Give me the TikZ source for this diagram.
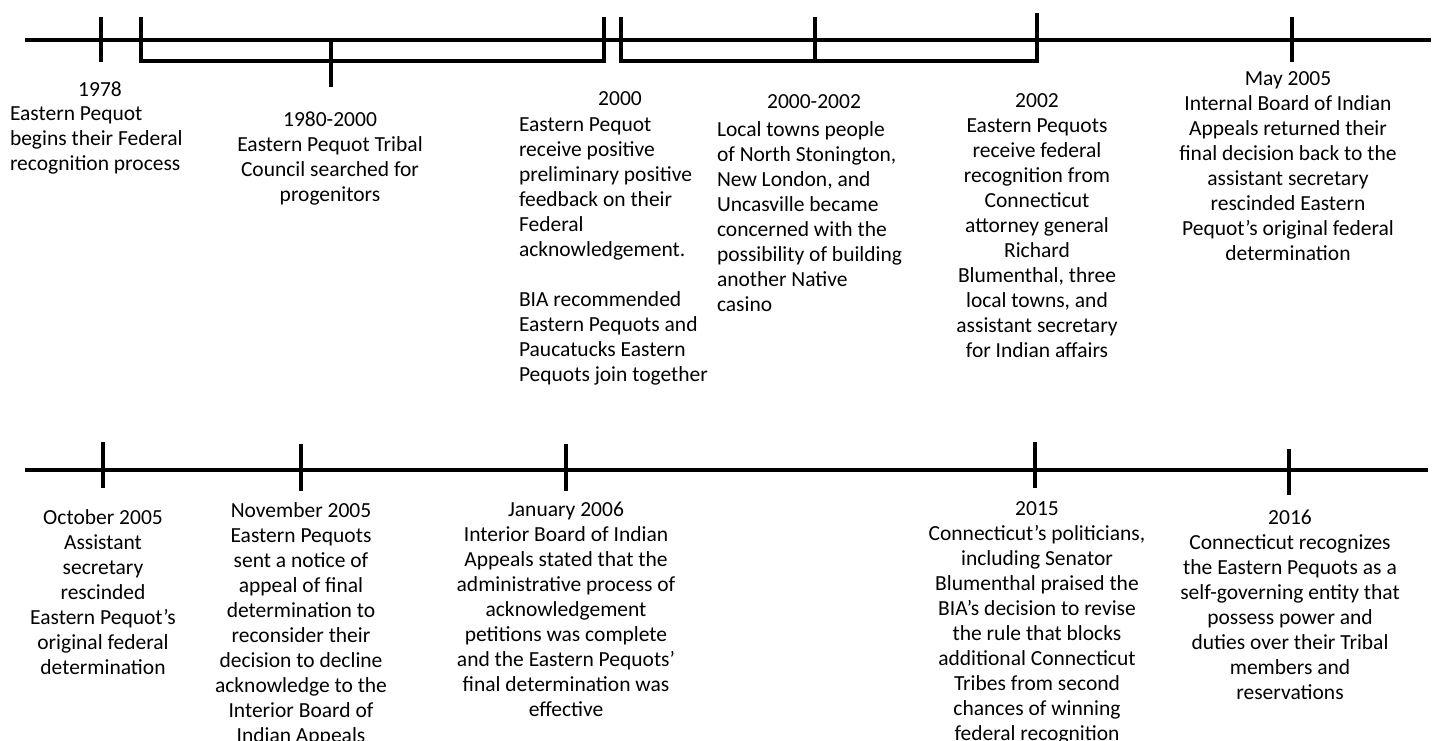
\documentclass[tikz,border=0pt]{standalone}
\usepackage{fontspec}
\setmainfont{Carlito}
\usetikzlibrary{positioning}

\begin{document}
\begin{tikzpicture}[x=1pt, y=-1pt, line width=4pt,
    event/.style={anchor=north, inner sep=0pt, align=center, font=\fontsize{21.5}{25}\selectfont},
    leftevent/.style={event, anchor=north west, align=left}]
    \useasboundingbox (0,0) rectangle (1435,741);

    % Ligne du temps du haut
    \draw (25,40) -- (1431,40);
    \draw (101,17) -- (101,62);
    \draw (141,17) |- (604,61) -- (604,17);
    \draw (331,40) -- (331,87);
    \draw (621,17) |- (1037,61) -- (1037,13);
    \draw (815,17) -- (815,61);
    \draw (1292,17) -- (1292,62);

    % Ligne du temps du bas
    \draw (25,470) -- (1428,470);
    \draw (103,442) -- (103,488);
    \draw (301,444) -- (301,491);
    \draw (566,444) -- (566,491);
    \draw (1035,442) -- (1035,488);
    \draw (1289,449) -- (1289,495);

    % Evenements du haut
    \node[event]     (yr1978) at (100,80)  {1978};
    \node[leftevent] (ev1978) at (8,105)   {Eastern Pequot\\begins their Federal\\recognition process};
    \node[event]     (ev1980) at (330,110) {1980-2000\\Eastern Pequot Tribal\\Council searched for\\progenitors};
    \node[event]     (yr2000) at (620,90)  {2000};
    \node[leftevent] (ev2000) at (517,116) {Eastern Pequot\\receive positive\\preliminary positive\\feedback on their\\Federal\\acknowledgement.\\[25pt]BIA recommended\\Eastern Pequots and\\Paucatucks Eastern\\Pequots join together};
    \node[event]     (yr0002) at (814,93)  {2000-2002};
    \node[leftevent] (ev0002) at (715,120) {Local towns people\\of North Stonington,\\New London, and\\Uncasville became\\concerned with the\\possibility of building\\another Native\\casino};
    \node[event]     (ev2002) at (1037,92) {2002\\Eastern Pequots\\receive federal\\recognition from\\Connecticut\\attorney general\\Richard\\Blumenthal, three\\local towns, and\\assistant secretary\\for Indian affairs};
    \node[event]     (ev0505) at (1288,70) {May 2005\\Internal Board of Indian\\Appeals returned their\\final decision back to the\\assistant secretary\\rescinded Eastern\\Pequot’s original federal\\determination};

    % Evenements du bas
    \node[event] (ev1005) at (103,508)  {October 2005\\Assistant\\secretary\\rescinded\\Eastern Pequot’s\\original federal\\determination};
    \node[event] (ev1105) at (301,501)  {November 2005\\Eastern Pequots\\sent a notice of\\appeal of final\\determination to\\reconsider their\\decision to decline\\acknowledge to the\\Interior Board of\\Indian Appeals};
    \node[event] (ev0106) at (566,500)  {January 2006\\Interior Board of Indian\\Appeals stated that the\\administrative process of\\acknowledgement\\petitions was complete\\and the Eastern Pequots’\\final determination was\\effective};
    \node[event] (ev2015) at (1037,500) {2015\\Connecticut’s politicians,\\including Senator\\Blumenthal praised the\\BIA’s decision to revise\\the rule that blocks\\additional Connecticut\\Tribes from second\\chances of winning\\federal recognition};
    \node[event] (ev2016) at (1290,508) {2016\\Connecticut recognizes\\the Eastern Pequots as a\\self-governing entity that\\possess power and\\duties over their Tribal\\members and\\reservations};
\end{tikzpicture}
\end{document}
